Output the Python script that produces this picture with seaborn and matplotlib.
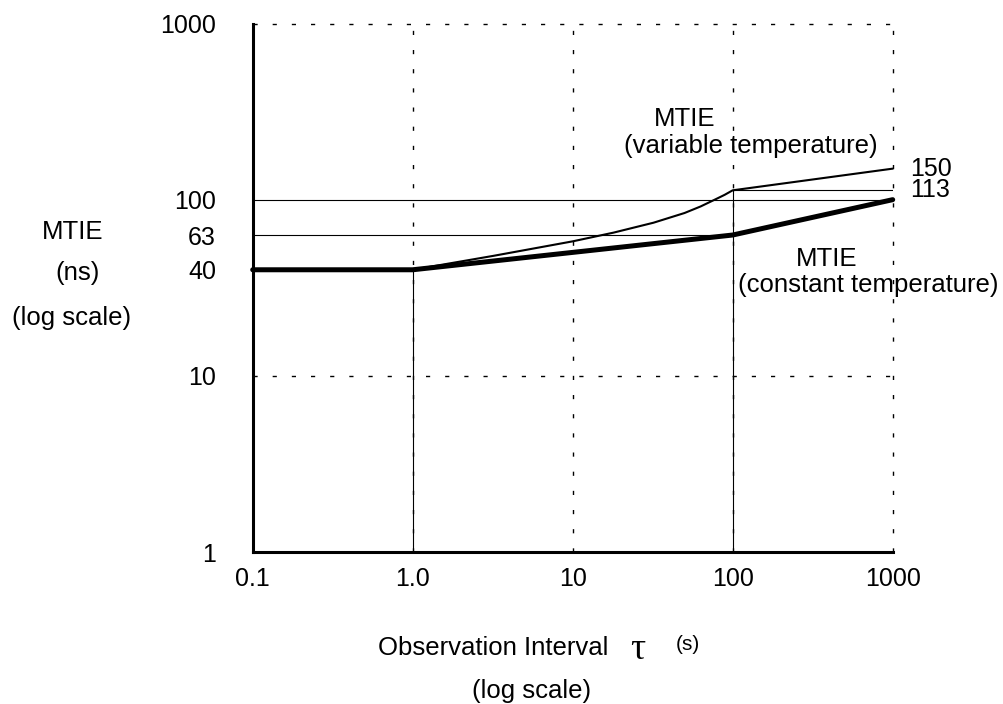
import pandas as pd
import matplotlib
matplotlib.use('Agg')
import matplotlib.pyplot as plt
import seaborn as sns

# data
x_ticks = [0.1, 1, 10, 100, 1000]
x_tick_labels = ['0.1', '1.0', '10', '100', '1000']
y_ticks = [1, 10, 40, 63, 100, 1000]
y_tick_labels = ['1', '10', '40', '63', '100', '1000']
grid_x = [1, 10, 100, 1000]
grid_y = [10, 1000]

const_tau = [0.1, 1, 100, 1000]
const_mtie = [40, 40, 63, 100]
var_tau = [1, 3.2, 10, 18, 32, 50, 63, 79, 89, 100, 1000]
var_mtie = [40, 48, 58, 65, 74, 84, 91.5, 101, 106.5, 113, 150]

# reference levels (value, x from, x to)
h_refs = [(100, 0.1, 1000), (63, 0.1, 100), (113, 100, 1000)]
v_refs = [(1, 1, 40), (100, 1, 113)]
end_labels = [150, 113]

df = pd.concat([
    pd.DataFrame({'tau': const_tau, 'mtie': const_mtie, 'serie': 'constant'}),
    pd.DataFrame({'tau': var_tau, 'mtie': var_mtie, 'serie': 'variable'}),
])

sns.set_style('white')
plt.rcParams['font.family'] = ['Liberation Sans', 'DejaVu Sans']
plt.rcParams['text.color'] = 'black'
plt.rcParams['xtick.color'] = 'black'
plt.rcParams['ytick.color'] = 'black'
plt.rcParams['axes.labelcolor'] = 'black'

W, H = 1004, 704
fig = plt.figure(figsize=(W / 100, H / 100), dpi=100)
ax = fig.add_axes([252.7 / W, 152 / H, 640 / W, 528.5 / H])

def fx(x, y):
    return x / W, 1 - y / H

ax.set_xscale('log')
ax.set_yscale('log')
ax.set_xlim(0.1, 1000)
ax.set_ylim(1, 1000)

# dashed grid
dash = (0, (3, 10.8))
for g in grid_x:
    ax.axvline(g, color='black', lw=1.0, linestyle=dash, zorder=1, clip_on=False)
for g in grid_y:
    ax.axhline(g, color='black', lw=1.0, linestyle=dash, zorder=1, clip_on=False)

# thin solid reference lines
for val, a, b in h_refs:
    ax.hlines(val, a, b, color='black', lw=0.8, zorder=2)
for val, a, b in v_refs:
    ax.vlines(val, a, b, color='black', lw=0.8, zorder=2)

sns.lineplot(data=df, x='tau', y='mtie', hue='serie', size='serie',
             palette={'constant': 'black', 'variable': 'black'},
             sizes={'constant': 3.6, 'variable': 1.5},
             estimator=None, sort=False, legend=False, ax=ax,
             zorder=3, clip_on=False)

for s in ['top', 'right']:
    ax.spines[s].set_visible(False)
for s in ['left', 'bottom']:
    ax.spines[s].set_color('black')
    ax.spines[s].set_linewidth(2.2)

ax.set_xticks(x_ticks)
ax.set_xticklabels(x_tick_labels)
ax.set_yticks(y_ticks)
ax.set_yticklabels(y_tick_labels)
ax.minorticks_off()
ax.tick_params(axis='x', length=0, pad=10.5, labelsize=18, labelcolor='black')
ax.tick_params(axis='y', length=0, pad=26.5, labelsize=18, labelcolor='black')
ax.set_xlabel('')
ax.set_ylabel('')

for v in end_labels:
    ax.annotate(str(v), xy=(1000, v), xytext=(12.5, 0), textcoords='offset points',
                va='center', ha='left', fontsize=18, color='black')

fs = 18.5
fig.text(*fx(685, 119), 'MTIE', ha='center', va='center', fontsize=fs)
fig.text(*fx(751, 146), '(variable temperature)', ha='center', va='center', fontsize=fs)
fig.text(*fx(827, 259), 'MTIE', ha='center', va='center', fontsize=fs)
fig.text(*fx(868, 285), '(constant temperature)', ha='center', va='center', fontsize=fs)

fig.text(*fx(73, 232), 'MTIE', ha='center', va='center', fontsize=fs)
fig.text(*fx(78, 273), '(ns)', ha='center', va='center', fontsize=fs)
fig.text(*fx(72, 318), '(log scale)', ha='center', va='center', fontsize=fs)

fig.text(*fx(608, 648), 'Observation Interval', ha='right', va='center', fontsize=fs)
fig.text(*fx(638, 650), 'τ', ha='center', va='center', fontsize=27,
         family=['Liberation Serif', 'DejaVu Serif'])
fig.text(*fx(688, 645), '(s)', ha='center', va='center', fontsize=15)
fig.text(*fx(532, 691), '(log scale)', ha='center', va='center', fontsize=fs)

fig.savefig('out.png', dpi=100, facecolor='white')
